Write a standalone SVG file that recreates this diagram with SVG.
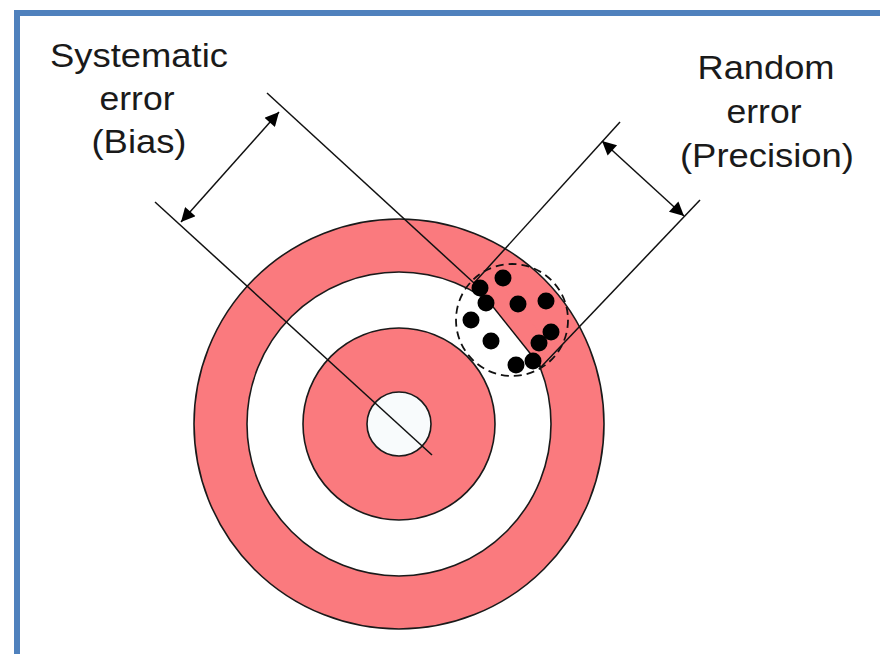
<svg xmlns="http://www.w3.org/2000/svg" width="880" height="654" viewBox="0 0 880 654">
  <defs>
    <style>
      .lbl { font-family: "Liberation Sans", Arial, sans-serif; font-size: 34px; fill: #1a1a1a; text-anchor: middle; }
      .ring { stroke: #1a1a1a; stroke-width: 1.6; }
      .pink { fill: #FA7A7E; }
      .white { fill: #FFFFFF; }
      .ln { stroke: #111; stroke-width: 1.5; fill: none; }
      .dot { fill: #000; }
    </style>
    <marker id="ah" viewBox="0 0 10 10" refX="10" refY="5" markerWidth="18" markerHeight="14" markerUnits="userSpaceOnUse" orient="auto-start-reverse">
      <path d="M0,0 L10,5 L0,10 Z" fill="#000"/>
    </marker>
  </defs>
  <rect width="880" height="654" fill="#FFFFFF"/>
  <!-- frame -->
  <rect x="17" y="13" width="900" height="700" fill="none" stroke="#4F81BD" stroke-width="6"/>

  <!-- target -->
  <g id="target">
    <circle cx="399" cy="424" r="205" class="ring pink"/>
    <circle cx="399" cy="424" r="152" class="ring white"/>
    <circle cx="399" cy="424" r="96" class="ring pink"/>
    <circle cx="399" cy="424" r="32" class="ring" fill="#F8FBFC"/>
    <polygon points="474,283 541,367 555,352 488,268" class="pink"/>
  </g>

  <g id="connectors">
    <line x1="474" y1="283" x2="541" y2="367" class="ln"/>
    <!-- bias lines -->
    <line x1="155" y1="202" x2="432" y2="455" class="ln"/>
    <line x1="267" y1="93" x2="474" y2="283" class="ln"/>
    <!-- precision lines -->
    <line x1="620" y1="122" x2="474" y2="283" class="ln"/>
    <line x1="700" y1="200" x2="541" y2="367" class="ln"/>
    <!-- dimension arrows -->
    <line x1="181" y1="222" x2="279" y2="112" class="ln" marker-start="url(#ah)" marker-end="url(#ah)"/>
    <line x1="602" y1="141" x2="684" y2="216" class="ln" marker-start="url(#ah)" marker-end="url(#ah)"/>
  </g>

  <g id="shots">
    <circle cx="512" cy="320" r="56" fill="none" stroke="#111" stroke-width="1.8" stroke-dasharray="8,5"/>
    <circle cx="503" cy="278" r="8.5" class="dot"/>
    <circle cx="480" cy="288" r="8.5" class="dot"/>
    <circle cx="486" cy="303" r="8.5" class="dot"/>
    <circle cx="518" cy="304" r="8.5" class="dot"/>
    <circle cx="546" cy="301" r="8.5" class="dot"/>
    <circle cx="471" cy="320" r="8.5" class="dot"/>
    <circle cx="491" cy="341" r="8.5" class="dot"/>
    <circle cx="551" cy="332" r="8.5" class="dot"/>
    <circle cx="539" cy="343" r="8.5" class="dot"/>
    <circle cx="516" cy="365" r="8.5" class="dot"/>
    <circle cx="533" cy="361" r="8.5" class="dot"/>
  </g>

  <g id="label-bias">
    <text class="lbl" x="139" y="67" textLength="178" lengthAdjust="spacingAndGlyphs">Systematic</text>
    <text class="lbl" x="137" y="110" textLength="75" lengthAdjust="spacingAndGlyphs">error</text>
    <text class="lbl" x="139" y="153" textLength="95" lengthAdjust="spacingAndGlyphs">(Bias)</text>
  </g>
  <g id="label-precision">
    <text class="lbl" x="766" y="79" textLength="137" lengthAdjust="spacingAndGlyphs">Random</text>
    <text class="lbl" x="764" y="123" textLength="75" lengthAdjust="spacingAndGlyphs">error</text>
    <text class="lbl" x="767" y="167" textLength="174" lengthAdjust="spacingAndGlyphs">(Precision)</text>
  </g>
</svg>
